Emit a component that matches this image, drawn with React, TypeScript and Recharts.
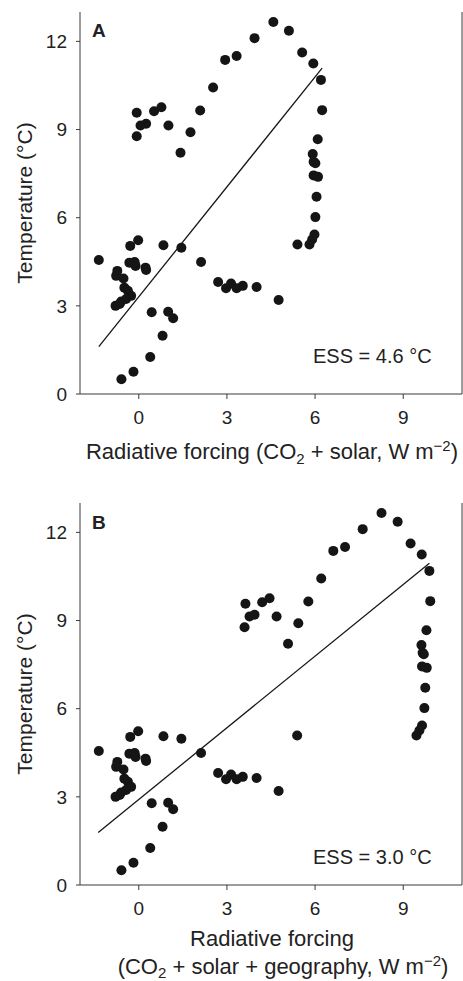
import React from 'react';
import { ScatterChart, Scatter, XAxis, YAxis, ReferenceLine } from 'recharts';

const FONT = '"Liberation Sans", Arial, Helvetica, sans-serif';
const INK = '#151515';
const AXIS = '#3a3a3a';
const TEXT = '#222';

// temperature (°C) of each sample, same order in both panels
const temperature = [
  9.57, 9.14, 9.2, 8.77, 9.62, 9.76, 9.14, 8.21, 8.91, 9.65, 10.43, 11.37, 11.5, 12.11, 12.66, 12.36,
  11.62, 11.25, 10.69, 9.66, 8.67, 8.17, 7.9, 7.85, 7.44, 7.39, 6.71, 6.02, 5.43, 5.26, 5.09, 5.09,
  4.49, 3.81, 3.6, 3.76, 3.6, 3.68, 3.64, 3.2,
  4.56, 4.19, 4.02, 3.93, 4.47, 4.49, 4.36, 5.04, 5.23, 4.3, 4.22, 5.06, 4.98, 3.62, 3.51, 3.34,
  3.23, 3.15, 3.0, 3.06,
  2.78, 2.8, 2.58, 1.98, 1.26, 0.76, 0.5,
];

// panel A: CO2 + solar forcing (W m-2)
const forcingSolar = [
  -0.07, 0.06, 0.25, -0.07, 0.52, 0.77, 1.01, 1.42, 1.76, 2.09, 2.53, 2.94, 3.33, 3.94, 4.58, 5.11,
  5.56, 5.94, 6.2, 6.24, 6.09, 5.92, 5.95, 6.01, 5.95, 6.1, 6.05, 6.01, 5.98, 5.9, 5.81, 5.4,
  2.12, 2.7, 2.97, 3.14, 3.33, 3.54, 4.01, 4.76,
  -1.36, -0.73, -0.77, -0.52, -0.32, -0.14, -0.11, -0.29, -0.02, 0.23, 0.25, 0.84, 1.45, -0.49, -0.37, -0.26,
  -0.43, -0.6, -0.79, -0.65,
  0.44, 1.0, 1.17, 0.81, 0.39, -0.18, -0.59,
];

// panel B: CO2 + solar + geography forcing (W m-2)
const forcingGeography = [
  3.63, 3.77, 3.94, 3.6, 4.2, 4.45, 4.69, 5.08, 5.43, 5.77, 6.21, 6.62, 7.02, 7.62, 8.26, 8.81,
  9.25, 9.63, 9.89, 9.92, 9.79, 9.62, 9.66, 9.7, 9.64, 9.8, 9.75, 9.72, 9.64, 9.55, 9.45, 5.39,
  2.12, 2.7, 2.97, 3.14, 3.33, 3.54, 4.01, 4.76,
  -1.36, -0.73, -0.77, -0.52, -0.32, -0.14, -0.11, -0.29, -0.02, 0.23, 0.25, 0.84, 1.45, -0.49, -0.37, -0.26,
  -0.43, -0.6, -0.79, -0.65,
  0.44, 1.0, 1.17, 0.81, 0.39, -0.18, -0.59,
];

// regression line end points
const fitA = [{ x: -1.36, y: 1.61 }, { x: 6.24, y: 11.09 }];
const fitB = [{ x: -1.38, y: 1.79 }, { x: 9.89, y: 10.95 }];

const xTicks = [0, 3, 6, 9];
const yTicks = [0, 3, 6, 9, 12];
const xDomain = [-2, 11];
const yDomain = [0, 13];

const W = 463;
const H = 491;

const Dot = (props: any) => <circle cx={props.cx} cy={props.cy} r={5} fill={INK} />;

const YTitle = ({ viewBox }: any) => {
  const cx = viewBox.x + 32;
  const cy = viewBox.y + viewBox.height / 2;
  return (
    <text x={cx} y={cy} transform={`rotate(-90, ${cx}, ${cy})`} textAnchor="middle"
      fontSize={21} fill={TEXT} fontFamily={FONT}>
      Temperature (°C)
    </text>
  );
};

const TitleA = ({ viewBox }: any) => {
  const cx = viewBox.x + viewBox.width / 2 + 1;
  return (
    <text x={cx} y={viewBox.y + 65} textAnchor="middle" fontSize={22} fill={TEXT} fontFamily={FONT}>
      Radiative forcing (CO<tspan dy={5} fontSize={15}>2</tspan>
      <tspan dy={-5}> + solar, W m</tspan>
      <tspan dy={-8} fontSize={15}>−2</tspan>
      <tspan dy={8}>)</tspan>
    </text>
  );
};

const TitleB = ({ viewBox }: any) => {
  const cx = viewBox.x + viewBox.width / 2;
  return (
    <g fontSize={22} fill={TEXT} fontFamily={FONT}>
      <text x={cx + 1} y={viewBox.y + 61} textAnchor="middle">Radiative forcing</text>
      <text x={cx + 12} y={viewBox.y + 89} textAnchor="middle">
        (CO<tspan dy={4} fontSize={15}>2</tspan>
        <tspan dy={-4}> + solar + geography, W m</tspan>
        <tspan dy={-8} fontSize={15}>−2</tspan>
        <tspan dy={8}>)</tspan>
      </text>
    </g>
  );
};

interface PanelProps {
  forcing: number[];
  fit: { x: number; y: number }[];
  letter: string;
  ess: string;
  essY: number;
  letterY: number;
  title: React.ReactElement;
}

const Panel = ({ forcing, fit, letter, ess, essY, letterY, title }: PanelProps) => {
  const points = forcing.map((x, i) => ({ x, y: temperature[i] }));
  return (
    <div style={{ position: 'relative', width: W, height: H }}>
      <ScatterChart width={W} height={H} margin={{ top: 12, right: 0, left: 0, bottom: 0 }}>
        <XAxis
          type="number"
          dataKey="x"
          domain={xDomain}
          ticks={xTicks}
          height={97}
          stroke={AXIS}
          tickSize={5}
          tickMargin={12}
          tick={{ fontSize: 19, fill: TEXT, fontFamily: FONT }}
          label={title}
        />
        <XAxis
          xAxisId="top"
          orientation="top"
          type="number"
          domain={xDomain}
          ticks={xTicks}
          height={0}
          stroke={AXIS}
          tickSize={5}
          tick={() => <g />}
        />
        <YAxis
          type="number"
          dataKey="y"
          domain={yDomain}
          ticks={yTicks}
          width={80}
          stroke={AXIS}
          tickSize={4}
          tickMargin={9}
          tick={{ fontSize: 19, fill: TEXT, fontFamily: FONT }}
          label={<YTitle />}
        />
        <YAxis
          yAxisId="right"
          orientation="right"
          type="number"
          domain={yDomain}
          width={1}
          stroke={AXIS}
          tick={false}
          tickLine={false}
        />
        <ReferenceLine segment={fit} stroke={INK} strokeWidth={1.3} ifOverflow="visible" />
        <Scatter data={points} fill={INK} shape={<Dot />} isAnimationActive={false} />
      </ScatterChart>
      <svg width={W} height={H} style={{ position: 'absolute', left: 0, top: 0, pointerEvents: 'none' }}>
        <text x={92} y={letterY} fontSize={19} fontWeight="bold" fill={TEXT} fontFamily={FONT}>{letter}</text>
        <text x={313} y={essY} fontSize={20} fill={TEXT} fontFamily={FONT}>{ess}</text>
      </svg>
    </div>
  );
}

export default function App() {
  return (
    <div style={{ position: 'absolute', left: 0, top: 0, width: W, height: 981, background: '#fff', overflow: 'hidden' }}>
      <Panel forcing={forcingSolar} fit={fitA} letter="A" ess="ESS = 4.6 °C" essY={363} letterY={37} title={<TitleA />} />
      <Panel forcing={forcingGeography} fit={fitB} letter="B" ess="ESS = 3.0 °C" essY={373} letterY={38} title={<TitleB />} />
    </div>
  );
}
